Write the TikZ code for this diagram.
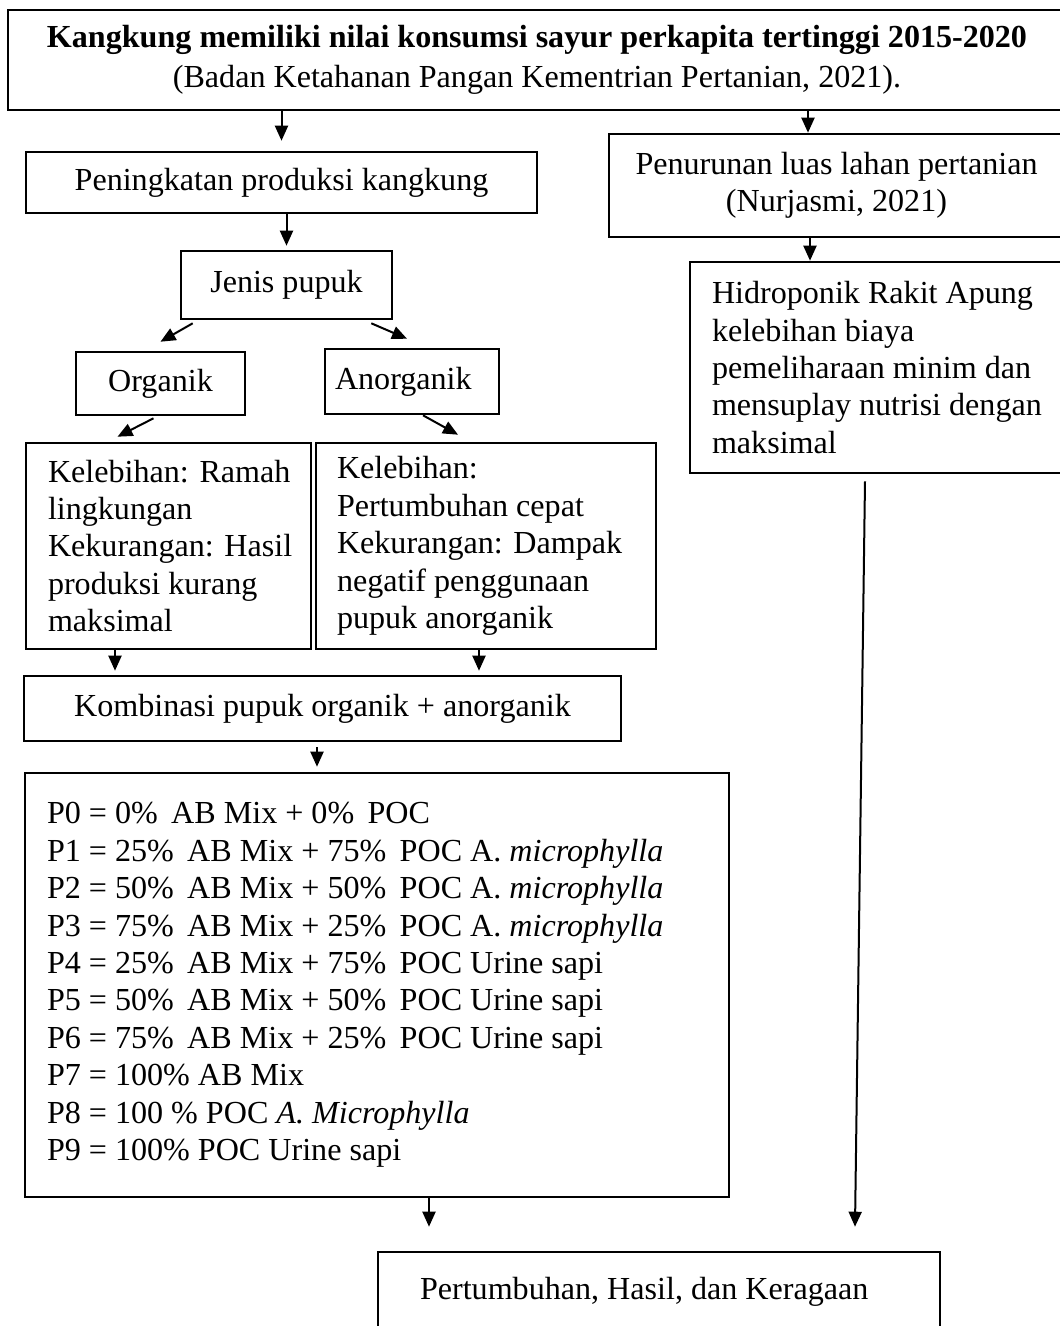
\documentclass[tikz,border=0pt]{standalone}
\usepackage{fontspec}
\setmainfont{Liberation Serif}
\usetikzlibrary{arrows.meta}

\begin{document}
\begin{tikzpicture}[>={Triangle[length=15pt, width=13pt]}, x=1pt, y=-1pt,
    font=\fontsize{32.1}{37.4}\selectfont,
    block/.style={draw, line width=2.6pt, inner sep=0pt, align=center},
    textblock/.style={block, align=flush left, inner xsep=22pt},
    arr/.style={->, line width=2pt}]
    \useasboundingbox (0,0) rectangle (1060,1326);
    \clip (0,0) rectangle (1060,1326);

    % latar
    \node[block, minimum width=1058pt, minimum height=100pt] (top) at (537,60)
        {\textbf{Kangkung memiliki nilai konsumsi sayur perkapita tertinggi 2015-2020}\\[2pt]
         (Badan Ketahanan Pangan Kementrian Pertanian, 2021).};

    % cabang kiri
    \node[block, minimum width=511pt, minimum height=61pt] (incr) at (281.5,182.5)
        {Peningkatan produksi kangkung};
    \node[block, minimum width=211pt, minimum height=68pt] (jenis) at (286.5,285) {Jenis pupuk};
    \node[block, minimum width=169pt, minimum height=63pt] (org) at (160.5,383.5) {Organik};
    \node[textblock, inner xsep=10pt, text width=154pt, minimum height=65pt] (anorg) at (412,381.5)
        {Anorganik};
    \node[textblock, text width=241pt, minimum height=206pt] (kelL) at (168.5,546)
        {\mbox{Kelebihan: Ramah}\\ lingkungan\\ \mbox{Kekurangan: Hasil}\\ produksi kurang\\ maksimal};
    \node[textblock, inner xsep=21pt, text width=298pt, minimum height=206pt] (kelR) at (486,546)
        {Kelebihan:\\ Pertumbuhan cepat\\ Kekurangan: Dampak\\ negatif penggunaan\\ pupuk anorganik};
    \node[block, minimum width=597pt, minimum height=65pt] (comb) at (322.5,708.5)
        {Kombinasi pupuk organik + anorganik};

    % perlakuan
    \node[textblock, text width=660pt, minimum height=424pt] (plist) at (377,985)
        {P0 = 0\%\, AB Mix + 0\%\, POC\\
         P1 = 25\%\, AB Mix + 75\%\, POC A. \textit{microphylla}\\
         P2 = 50\%\, AB Mix + 50\%\, POC A. \textit{microphylla}\\
         P3 = 75\%\, AB Mix + 25\%\, POC A. \textit{microphylla}\\
         P4 = 25\%\, AB Mix + 75\%\, POC Urine sapi\\
         P5 = 50\%\, AB Mix + 50\%\, POC Urine sapi\\
         P6 = 75\%\, AB Mix + 25\%\, POC Urine sapi\\
         P7 = 100\% AB Mix\\
         P8 = 100 \% POC \textit{A. Microphylla}\\
         P9 = 100\% POC Urine sapi};

    % cabang kanan
    \node[block, minimum width=455pt, minimum height=103pt] (drop) at (836.5,185.5)
        {Penurunan luas lahan pertanian\\ (Nurjasmi, 2021)};
    \node[textblock, text width=346pt, minimum height=211pt] (hidro) at (885,367.5)
        {Hidroponik Rakit Apung\\ kelebihan biaya\\ pemeliharaan minim dan\\ mensuplay nutrisi dengan\\ maksimal};

    % hasil
    \node[textblock, inner xsep=42pt, text width=478pt, minimum height=80pt] (result) at (659,1292)
        {Pertumbuhan, Hasil, dan Keragaan};

    % panah
    \draw[arr, shorten >=10pt] (incr.north |- top.south) -- (incr.north);
    \draw[arr] ([xshift=271pt]top.south) -- ([xshift=-28.5pt]drop.north);
    \draw[arr, shorten >=4pt] (jenis.north |- incr.south) -- (jenis.north);
    \draw[arr] ([xshift=13pt,yshift=-3pt]jenis.south west) -- ([yshift=9pt]org.north);
    \draw[arr] ([xshift=-22pt,yshift=-3pt]jenis.south east) -- ([xshift=-5pt,yshift=9pt]anorg.north);
    \draw[arr] ([xshift=-7pt,yshift=-2pt]org.south) -- ([xshift=-51pt,yshift=5pt]kelL.north);
    \draw[arr] ([xshift=11pt]anorg.south) -- ([xshift=-28pt,yshift=7pt]kelR.north);
    \draw[arr] ([xshift=-53.5pt]kelL.south) -- ([xshift=-207.5pt,yshift=4pt]comb.north);
    \draw[arr] ([xshift=-7pt]kelR.south) -- ([xshift=156.5pt,yshift=4pt]comb.north);
    \draw[arr] ([xshift=-5.5pt,yshift=-5pt]comb.south) -- ([xshift=-60pt,yshift=5pt]plist.north);
    \draw[arr] ([xshift=-26.5pt]drop.south) -- ([xshift=-75pt]hidro.north);
    \draw[arr] ([xshift=-20pt,yshift=-7pt]hidro.south) -- ([xshift=196pt,yshift=24pt]result.north);
    \draw[arr] ([xshift=52pt]plist.south) -- ([xshift=-230pt,yshift=24pt]result.north);

\end{tikzpicture}
\end{document}
